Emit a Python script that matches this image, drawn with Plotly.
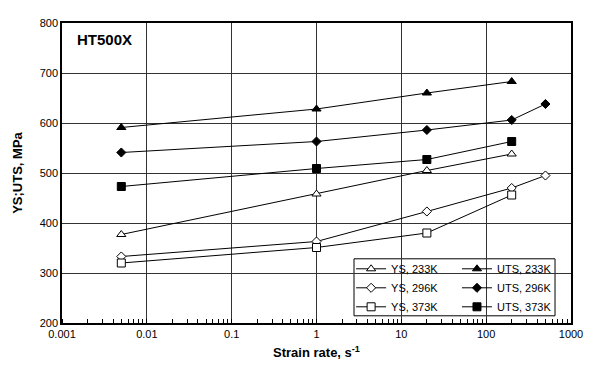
import plotly.graph_objects as go

# Data
rates_a = [0.005, 1, 20, 200]
rates_b = [0.005, 1, 20, 200, 500]

ys_233 = [377, 458, 505, 538]
ys_296 = [333, 363, 423, 470, 495]
ys_373 = [320, 351, 380, 456]
uts_233 = [591, 628, 660, 683]
uts_296 = [541, 563, 586, 606, 638]
uts_373 = [473, 509, 527, 563]

x_tickvals = [0.001, 0.01, 0.1, 1, 10, 100, 1000]
x_ticktext = ["0.001", "0.01", "0.1", "1", "10", "100", "1000"]
y_tickvals = [200, 300, 400, 500, 600, 700, 800]

FONT = "Liberation Sans, Arial, sans-serif"

series = [
    ("YS, 233K", rates_a, ys_233, "triangle-up", "white", "legend", 8),
    ("YS, 296K", rates_b, ys_296, "diamond", "white", "legend", 7),
    ("YS, 373K", rates_a, ys_373, "square", "white", "legend", 8),
    ("UTS, 233K", rates_a, uts_233, "triangle-up", "black", "legend2", 8),
    ("UTS, 296K", rates_b, uts_296, "diamond", "black", "legend2", 7),
    ("UTS, 373K", rates_a, uts_373, "square", "black", "legend2", 8),
]

fig = go.Figure()
for name, xs, ys, sym, fill, lg, size in series:
    fig.add_trace(go.Scatter(
        x=xs, y=ys, name=name, mode="lines+markers",
        line=dict(color="black", width=1),
        marker=dict(symbol=sym, size=size, color=fill,
                    line=dict(color="black", width=1)),
        legend=lg,
    ))

legend_common = dict(
    bgcolor="rgba(0,0,0,0)", borderwidth=0,
    font=dict(family=FONT, size=11, color="black"),
    itemwidth=30, xanchor="left", yanchor="top",
    tracegroupgap=0,
)

fig.update_layout(
    width=585, height=359,
    margin=dict(l=54, r=22, t=9, b=40),
    paper_bgcolor="white", plot_bgcolor="white",
    font=dict(family=FONT, size=11, color="black"),
    showlegend=True,
    legend=dict(x=0.568, y=0.229, **legend_common),
    legend2=dict(x=0.776, y=0.229, **legend_common),
    xaxis=dict(
        type="log", range=[-3, 3],
        tickvals=x_tickvals, ticktext=x_ticktext,
        showgrid=True, gridcolor="#333333", gridwidth=1,
        showline=True, linecolor="black", linewidth=1.5, mirror=True,
        ticks="", zeroline=False,
        minor=dict(ticks="inside", ticklen=4, tickcolor="black", tickwidth=1, dtick="D1", showgrid=False),
        title=dict(text="<b>Strain rate, s<sup>-1</sup></b>", font=dict(size=13, family=FONT), standoff=9),
        tickfont=dict(size=11),
    ),
    yaxis=dict(
        range=[200, 800], tickvals=y_tickvals,
        showgrid=True, gridcolor="#333333", gridwidth=1,
        showline=True, linecolor="black", linewidth=1.5, mirror=True,
        ticks="", zeroline=False,
        title=dict(text="<b>YS;UTS, MPa</b>", font=dict(size=13, family=FONT), standoff=14),
        tickfont=dict(size=11),
    ),
    shapes=[dict(type="rect", xref="paper", yref="paper",
                 x0=0.5737, x1=0.9686, y0=0.024, y1=0.214,
                 line=dict(color="black", width=1), fillcolor="white", layer="below")],
    annotations=[dict(text="<b>HT500X</b>", xref="paper", yref="paper",
                      x=0.0255, y=0.945, xanchor="left", yanchor="middle",
                      showarrow=False, font=dict(size=15, family=FONT))],
)

fig.write_html("out.html")
